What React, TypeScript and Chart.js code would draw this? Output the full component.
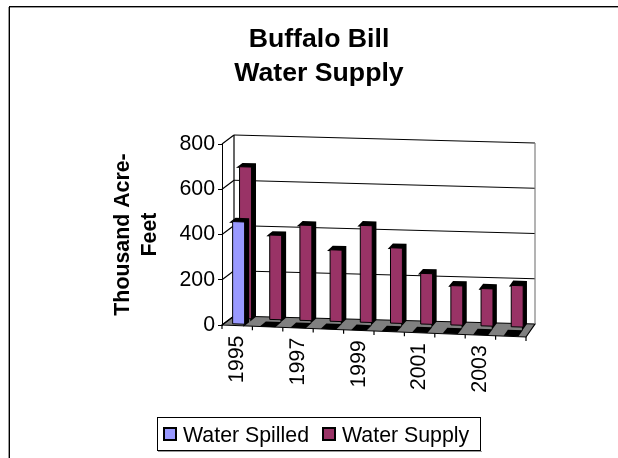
import React, { useEffect, useRef } from "react";
import { Chart, registerables } from "chart.js";

Chart.register(...registerables);

const years = ["1995", "1996", "1997", "1998", "1999", "2000", "2001", "2002", "2003", "2004"];
const waterSpilled = [454, 0, 0, 0, 0, 0, 0, 0, 0, 0];
const waterSupply = [673, 375, 423, 318, 430, 335, 226, 176, 167, 185];
const yTicks = { min: 0, max: 800, step: 200 };
const FONT = "'Liberation Sans', Arial, sans-serif";
const SPILLED = "#9999FF";
const SUPPLY = "#993366";

// 3D look: projection of the front plane into depth (d = 0 front, d = 1 back wall)
const project = (chart: any, px: number, py: number, d: number): [number, number] => {
  const { left: L, right: R } = chart.chartArea;
  const f = (px - L) / (R - L);
  return [L + d * 12 + f * (R - L - d * 3), py + f * 12 - d * (9 + 4 * f)];
};

const poly = (ctx: CanvasRenderingContext2D, pts: [number, number][]) => {
  ctx.beginPath();
  pts.forEach((p, i) => (i ? ctx.lineTo(p[0], p[1]) : ctx.moveTo(p[0], p[1])));
  ctx.closePath();
};

const depths = [
  [0.12, 0.4],
  [0.7, 0.98],
];

const plugin3d = {
  id: "plugin3d",
  afterLayout(chart: any) {
    const xs = chart.scales.x;
    if (!xs._sheared) {
      xs._sheared = true;
      const orig = xs.drawLabels.bind(xs);
      xs.drawLabels = (area: any) => {
        const c = chart.ctx;
        const { left: L, right: R } = chart.chartArea;
        const k = 12 / (R - L);
        c.save();
        c.transform(1, k, 0, 1, 0, -k * L);
        orig(area);
        c.restore();
      };
    }
  },
  beforeDraw(chart: any) {
    const c = chart.ctx;
    // outer chart frame, running off the window to the right and bottom
    c.save();
    c.fillStyle = "#fff";
    c.fillRect(0, 0, chart.width, chart.height);
    c.fillStyle = "#999";
    c.fillRect(8, 7, 610, 1);
    c.fillRect(8, 7, 1, 451);
    c.fillStyle = "#000";
    c.fillRect(9, 6, 609, 1);
    c.fillRect(9, 6, 1, 452);
    c.restore();
  },
  beforeDatasetsDraw(chart: any) {
    const c: CanvasRenderingContext2D = chart.ctx;
    const ys = chart.scales.y;
    const { left: L, right: R, top: T, bottom: B } = chart.chartArea;
    c.save();
    c.lineJoin = "miter";
    // floor
    poly(c, [project(chart, L, B, 0), project(chart, R, B, 0), project(chart, R, B, 1), project(chart, L, B, 1)]);
    c.fillStyle = "#808080";
    c.fill();
    c.strokeStyle = "#000";
    c.lineWidth = 1.2;
    c.stroke();
    // walls
    const line = (a: [number, number], b: [number, number], col = "#000") => {
      c.strokeStyle = col;
      c.beginPath();
      c.moveTo(a[0], a[1]);
      c.lineTo(b[0], b[1]);
      c.stroke();
    };
    ys.ticks.forEach((t: any) => {
      const y = ys.getPixelForValue(t.value);
      if (t.value !== yTicks.min) line(project(chart, L, y, 1), project(chart, R, y, 1));
      line(project(chart, L, y, 0), project(chart, L, y, 1));
    });
    line(project(chart, L, T, 1), project(chart, L, B, 1));
    line(project(chart, R, T, 1), project(chart, R, B, 1), "#808080");
    // category ticks below the front edge
    const xs = chart.scales.x;
    for (let i = 0; i <= years.length; i++) {
      const px = i < years.length ? xs.getPixelForValue(i) - (xs.getPixelForValue(1) - xs.getPixelForValue(0)) / 2 : R;
      const a = project(chart, px, B, 0);
      line(a, [a[0], a[1] + 4]);
    }
    // bars, back row first
    [1, 0].forEach((ds) => {
      const [d0, d1] = depths[ds];
      chart.getDatasetMeta(ds).data.forEach((el: any) => {
        const x0 = el.x - el.width / 2;
        const x1 = el.x + el.width / 2;
        const yT = el.y;
        const yB = el.base;
        poly(c, [
          project(chart, x0, yT, d0),
          project(chart, x0, yT, d1),
          project(chart, x1, yT, d1),
          project(chart, x1, yB, d1),
          project(chart, x1, yB, d0),
          project(chart, x1, yT, d0),
        ]);
        c.fillStyle = "#000";
        c.strokeStyle = "#000";
        c.lineWidth = 2.5;
        c.fill();
        c.stroke();
        if (yB - yT > 0.5) {
          poly(c, [project(chart, x0, yT, d0), project(chart, x1, yT, d0), project(chart, x1, yB, d0), project(chart, x0, yB, d0)]);
          c.fillStyle = chart.data.datasets[ds].backgroundColor;
          c.lineWidth = 1;
          c.fill();
          c.stroke();
        }
      });
    });
    c.restore();
    return false;
  },
  afterDraw(chart: any) {
    // legend box
    const c: CanvasRenderingContext2D = chart.ctx;
    c.save();
    c.fillStyle = "#999";
    c.fillRect(158, 451, 324, 1);
    c.strokeStyle = "#000";
    c.lineWidth = 1;
    c.strokeRect(157.5, 417.5, 323, 33);
    c.font = `21.33px ${FONT}`;
    c.textBaseline = "alphabetic";
    const items = [
      { sx: 164, tx: 183 },
      { sx: 323, tx: 342 },
    ];
    chart.data.datasets.forEach((ds: any, i: number) => {
      c.fillStyle = ds.backgroundColor;
      c.fillRect(items[i].sx, 428, 12, 12);
      c.strokeStyle = "#000";
      c.lineWidth = 2;
      c.strokeRect(items[i].sx, 428, 12, 12);
      c.fillStyle = "#000";
      c.fillText(ds.label, items[i].tx, 442);
    });
    c.restore();
  },
};

export default function App() {
  const ref = useRef<HTMLCanvasElement>(null);
  useEffect(() => {
    const chart = new Chart(ref.current!, {
      type: "bar",
      data: {
        labels: years,
        datasets: [
          { label: "Water Spilled", data: waterSpilled, backgroundColor: SPILLED, borderColor: "#000", grouped: false, barThickness: 12 } as any,
          { label: "Water Supply", data: waterSupply, backgroundColor: SUPPLY, borderColor: "#000", grouped: false, barThickness: 12 } as any,
        ],
      },
      options: {
        responsive: false,
        animation: false,
        layout: { padding: { left: 112, right: 112, top: 0, bottom: 10 } },
        plugins: {
          legend: { display: false },
          tooltip: { enabled: false },
          title: {
            display: true,
            text: ["Buffalo Bill", "Water Supply"],
            color: "#000",
            font: { family: FONT, size: 26.67, weight: "bold", lineHeight: 1.275 },
            padding: { top: 23, bottom: 53 },
          },
        },
        scales: {
          x: {
            type: "category",
            offset: true,
            grid: { display: false },
            border: { display: false },
            afterFit: (s: any) => {
              s.height = 123;
            },
            ticks: {
              autoSkip: false,
              minRotation: 90,
              maxRotation: 90,
              padding: 2,
              color: "#000",
              font: { family: FONT, size: 21.33 },
              callback: (_v: any, i: number) => (i % 2 === 0 ? years[i] : ""),
            },
          },
          y: {
            min: yTicks.min,
            max: yTicks.max,
            afterFit: (s: any) => {
              s.width = 110;
            },
            grid: { drawOnChartArea: false, drawTicks: true, tickLength: 4, color: "#000" },
            border: { display: true, color: "#000" },
            ticks: { stepSize: yTicks.step, padding: 3, color: "#000", font: { family: FONT, size: 21.33 } },
            title: {
              display: true,
              text: ["Thousand Acre-", "Feet"],
              color: "#000",
              font: { family: FONT, size: 21.33, weight: "bold", lineHeight: 1.28 },
              padding: { top: -3, bottom: 0 },
            },
          },
        },
      },
      plugins: [plugin3d],
    } as any);
    return () => chart.destroy();
  }, []);
  return <canvas ref={ref} width={638} height={458} style={{ position: "fixed", left: 0, top: 0, display: "block" }} />;
}
